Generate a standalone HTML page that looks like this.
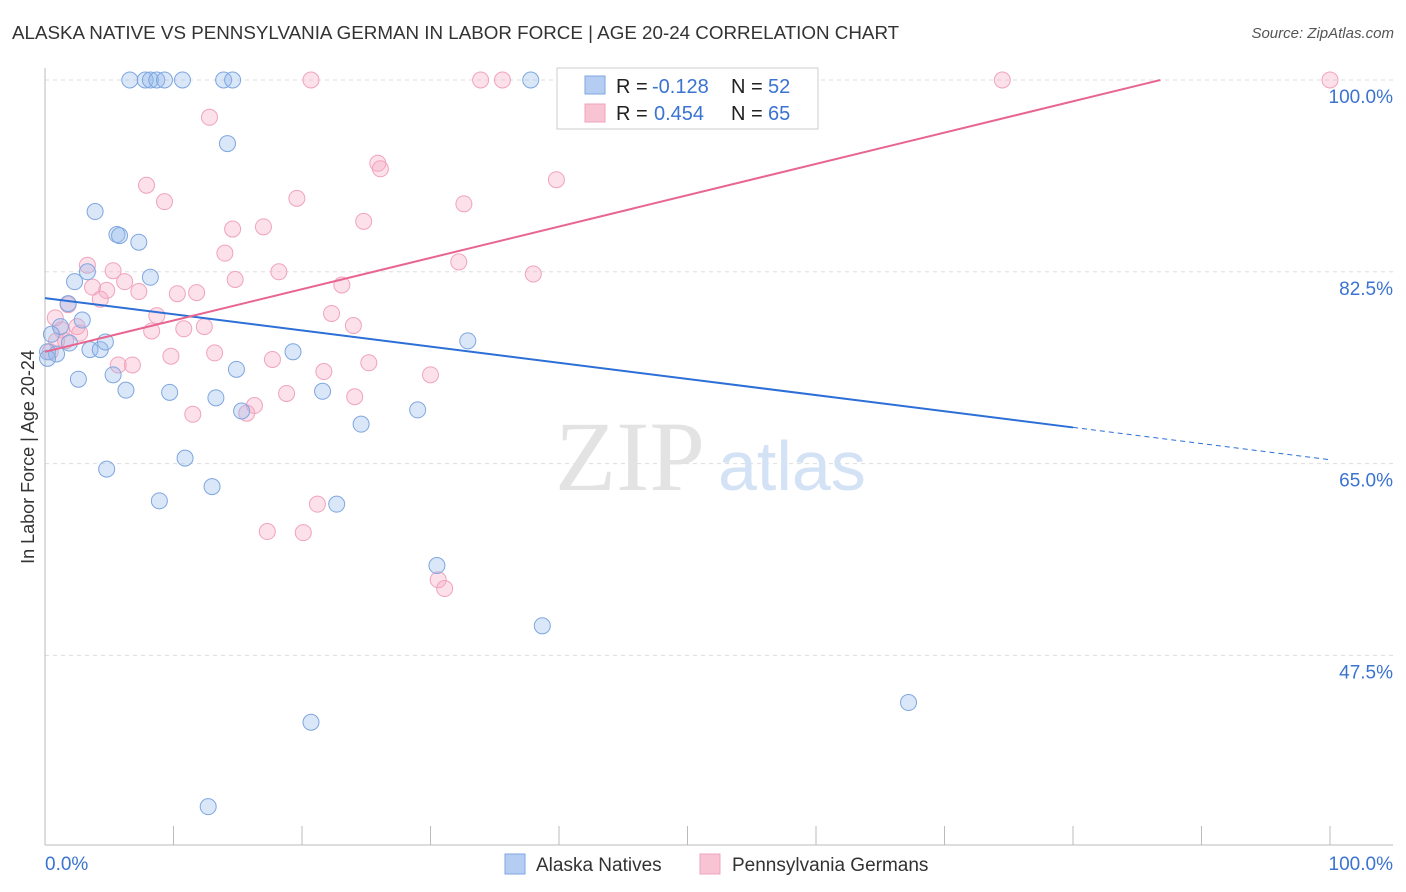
<!DOCTYPE html>
<html><head><meta charset="utf-8">
<style>
body{margin:0;background:#fff;font-family:"Liberation Sans",sans-serif;}
#wrap{position:relative;width:1406px;height:892px;overflow:hidden;}
.t{position:absolute;white-space:nowrap;}
</style></head><body>
<div id="wrap">
<div class="t" style="left:12px;top:22px;font-size:18.8px;color:#333;">ALASKA NATIVE VS PENNSYLVANIA GERMAN IN LABOR FORCE | AGE 20-24 CORRELATION CHART</div>
<div class="t" style="right:12px;top:25px;font-size:15px;color:#555;font-style:italic;">Source: ZipAtlas.com</div>
<svg id="svg" width="1406" height="892" style="position:absolute;left:0;top:0"></svg>
</div>
<script>
const blueX=[6.6,7.8,8.2,8.7,9.3,10.7,13.9,14.6,37.8,41.5,44.7,14.2,3.9,5.6,5.8,7.3,2.3,3.3,8.2,1.8,2.9,1.2,0.5,0.2,0.9,1.9,3.5,4.3,4.7,2.6,5.3,6.3,9.7,14.9,19.3,21.6,13.3,15.3,24.6,29.0,32.9,4.8,10.9,13.0,8.9,22.7,30.5,38.7,67.2,20.7,12.7,0.2];
const blueY=[100,100,100,100,100,100,100,100,100,100,100,94.2,88.0,85.9,85.8,85.2,81.6,82.5,82.0,79.6,78.1,77.5,76.8,75.2,75.0,76.0,75.4,75.4,76.1,72.7,73.1,71.7,71.5,73.6,75.2,71.6,71.0,69.8,68.6,69.9,76.2,64.5,65.5,62.9,61.6,61.3,55.7,50.2,43.2,41.4,33.7,74.6];
const pinkX=[20.7,33.9,35.6,44.0,46.8,58.5,74.5,100,12.8,25.9,26.1,39.8,7.9,9.3,19.6,32.6,24.8,14.6,17.0,14.0,32.2,3.3,5.3,18.2,38.0,14.8,6.2,3.7,4.8,7.3,10.3,11.8,23.1,4.3,1.8,0.8,8.7,22.3,10.8,12.4,24.0,8.3,1.3,2.5,2.7,0.9,1.6,0.4,9.8,13.2,17.7,25.2,5.7,6.8,21.7,30.0,18.8,24.1,16.3,15.7,11.5,21.2,17.3,20.1,30.6,31.1];
const pinkY=[100,100,100,100,100,100,100,100,96.6,92.4,91.9,90.9,90.4,88.9,89.2,88.7,87.1,86.4,86.6,84.2,83.4,83.1,82.6,82.5,82.3,81.8,81.6,81.1,80.8,80.7,80.5,80.6,81.3,80.0,79.5,78.3,78.5,78.7,77.3,77.5,77.6,77.1,77.2,77.5,76.9,76.2,76.2,75.2,74.8,75.1,74.5,74.2,74.0,74.0,73.4,73.1,71.4,71.1,70.3,69.6,69.5,61.3,58.8,58.7,54.4,53.6];
const blueLine=[80.1,68.3];   // y at x=0, x=80
const pinkLine=[75.2,100];    // y at x=0, x=86.8
const xTicks=["0.0%","100.0%"];
const yTicks=[100,82.5,65,47.5];
const yTickLabels=["100.0%","82.5%","65.0%","47.5%"];
const X=v=>45+v*12.85, Y=v=>80+(100-v)*10.96;
const s=document.getElementById('svg');const NS="http://www.w3.org/2000/svg";
function mk(t,a,name){const e=document.createElementNS(NS,t);for(const k in a)e.setAttribute(k,a[k]);


s.appendChild(e);return e;}
let t=mk('text',{x:0,y:0,'font-size':18,fill:'#333','text-anchor':'middle',transform:'translate(34,457) rotate(-90)'},'y-axis-title');t.textContent="In Labor Force | Age 20-24";
yTicks.forEach((v,i)=>{mk('line',{x1:45,x2:1393,y1:Y(v),y2:Y(v),stroke:'#ddd','stroke-dasharray':'4,4'},'gridline');
const t=mk('text',{x:1393,y:Y(v)+23,'text-anchor':'end','font-size':19,fill:'#3b73d0'},'y-tick-label');t.textContent=yTickLabels[i];});
mk('line',{x1:45,x2:45,y1:68,y2:845,stroke:'#bbb'},'y-axis');
mk('line',{x1:45,x2:1393,y1:845,y2:845,stroke:'#bbb'},'x-axis');
for(let i=0;i<=10;i++)mk('line',{x1:X(i*10),x2:X(i*10),y1:826,y2:845,stroke:'#bbb'},'x-tick');
t=mk('text',{x:45,y:870,'font-size':19,fill:'#3b73d0'},'x-tick-label');t.textContent=xTicks[0];
t=mk('text',{x:1393,y:870,'text-anchor':'end','font-size':19,fill:'#3b73d0'},'x-tick-label');t.textContent=xTicks[1];
t=mk('text',{x:555,y:490,'font-size':100,fill:'#e3e3e3','font-family':'Liberation Serif'},'watermark-zip');t.textContent="ZIP";
t=mk('text',{x:718,y:490,'font-size':70,fill:'#d4e2f5'},'watermark-atlas');t.textContent="atlas";
pinkX.forEach((x,i)=>mk('circle',{cx:X(x),cy:Y(pinkY[i]),r:8,fill:'rgba(246,170,195,0.35)',stroke:'#f0a3bd'},'pink-point'));
blueX.forEach((x,i)=>mk('circle',{cx:X(x),cy:Y(blueY[i]),r:8,fill:'rgba(150,185,235,0.35)',stroke:'#7ea6e0'},'blue-point'));
const bs=(blueLine[1]-blueLine[0])/80;
mk('line',{x1:X(0),y1:Y(blueLine[0]),x2:X(80),y2:Y(blueLine[1]),stroke:'#2c6fd6','stroke-width':2},'blue-trendline');
mk('line',{x1:X(80),y1:Y(blueLine[1]),x2:X(100),y2:Y(blueLine[0]+bs*100),stroke:'#2c6fd6','stroke-width':1,'stroke-dasharray':'5,4'},'blue-trendline-dashed');
mk('line',{x1:X(0),y1:Y(pinkLine[0]),x2:X(86.8),y2:Y(pinkLine[1]),stroke:'#e8658f','stroke-width':2},'pink-trendline');
mk('rect',{x:557,y:68,width:261,height:61,fill:'#fff',stroke:'#ccc'},'legend-box');
mk('rect',{x:585,y:76,width:20,height:18,fill:'#b5cdf2',stroke:'#7ea6e0'},'legend-swatch-blue');
mk('rect',{x:585,y:104,width:20,height:18,fill:'#f8c4d4',stroke:'#f0a3bd'},'legend-swatch-pink');
[["R = ",616,93,'#222'],["-0.128",652,93,'#3b73d0'],["N = ",731,93,'#222'],["52",768,93,'#3b73d0'],
["R = ",616,120,'#222'],["0.454",654,120,'#3b73d0'],["N = ",731,120,'#222'],["65",768,120,'#3b73d0']].forEach(a=>{
const e=mk('text',{x:a[1],y:a[2],'font-size':20,fill:a[3]},'legend-stat');e.textContent=a[0];});
mk('rect',{x:505,y:854,width:20,height:20,fill:'#b5cdf2',stroke:'#7ea6e0'},'bottom-legend-swatch-blue');
t=mk('text',{x:536,y:871,'font-size':19,fill:'#333'},'bottom-legend-alaska');t.textContent="Alaska Natives";
mk('rect',{x:700,y:854,width:20,height:20,fill:'#f8c4d4',stroke:'#f0a3bd'},'bottom-legend-swatch-pink');
t=mk('text',{x:732,y:871,'font-size':19,fill:'#333'},'bottom-legend-penn');t.textContent="Pennsylvania Germans";
</script>
</body></html>
